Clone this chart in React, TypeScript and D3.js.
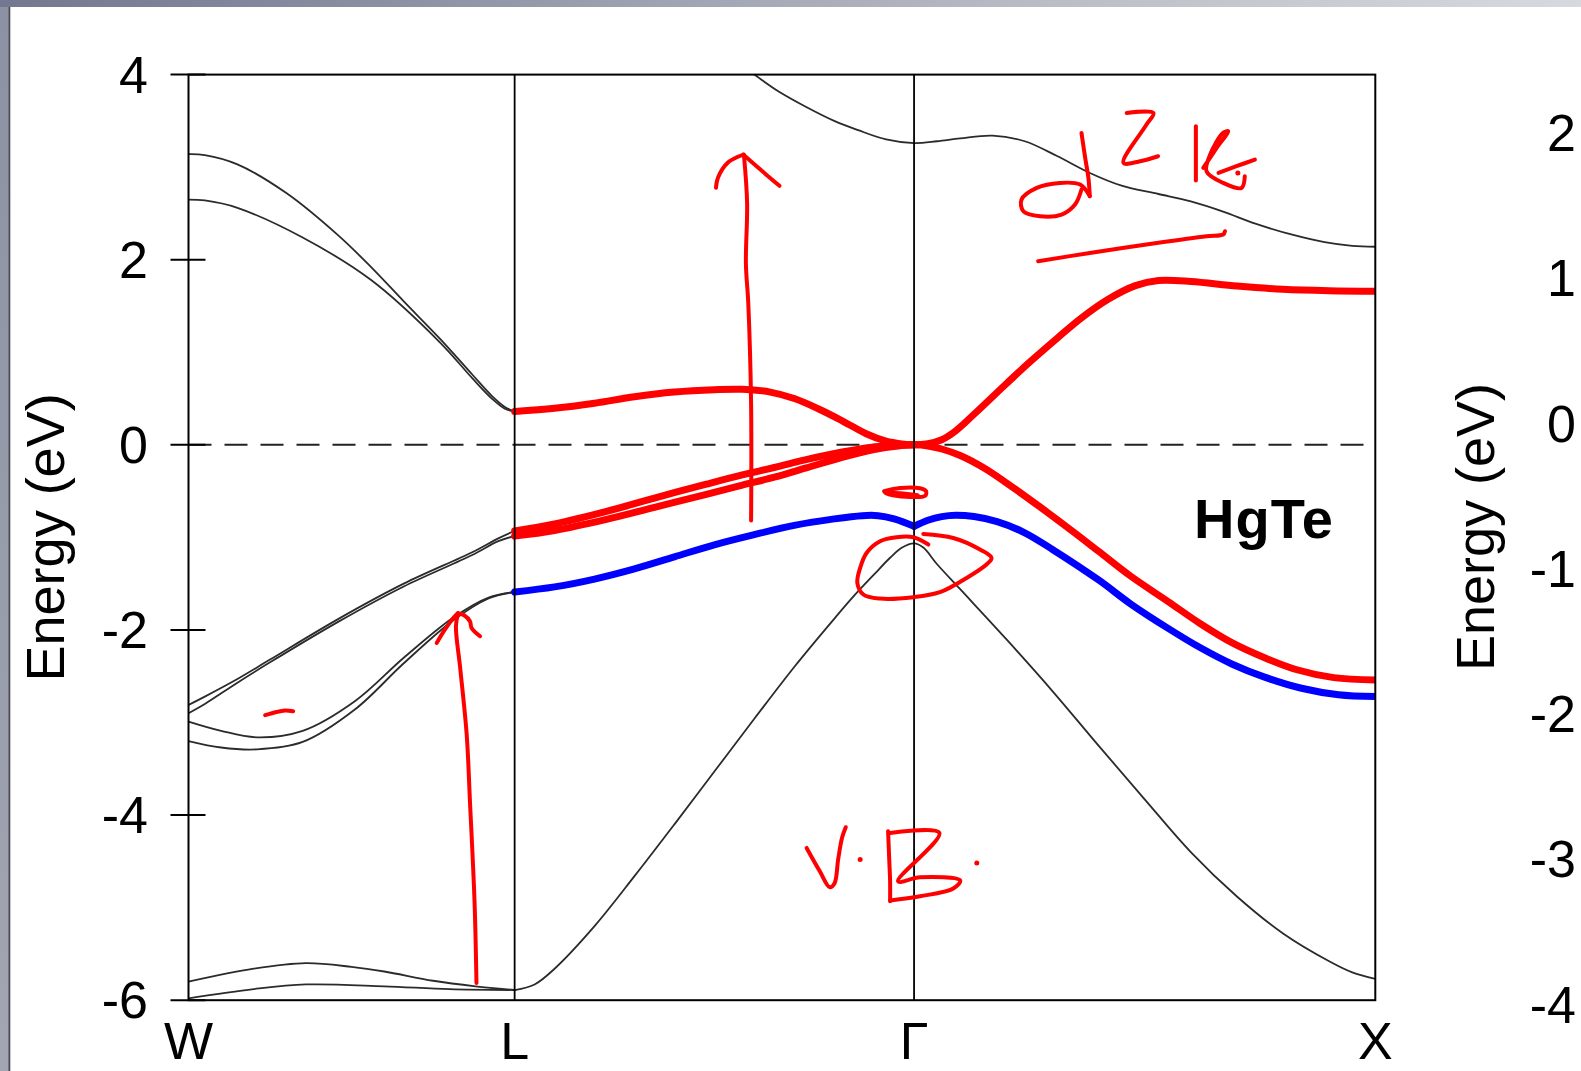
import React from 'react';
import * as d3 from 'd3';

const WIDTH = 1581;
const HEIGHT = 1071;
const FONT = "'Liberation Sans', Arial, Helvetica, sans-serif";

// High-symmetry points and their distances along the k-path (units of 2π/a)
const kLabels = ['W', 'L', 'Γ', 'X'];
const kDist = [0, 0.7071, 1.5731, 2.5731];

// Energy axis ticks (left panel) and the neighbouring panel's axis ticks
const yTicks = [-6, -4, -2, 0, 2, 4];
const rightTicks = [-4, -3, -2, -1, 0, 1, 2];

// Band points as [u, E]: u = index of the segment start + fraction along it (W=0, L=1, Γ=2, X=3)
// W → L, drawn in black
const wlCond2 = [[0, 3.14], [0.05, 3.13], [0.15, 3.03], [0.3, 2.72], [0.46, 2.26], [0.56, 1.92], [0.66, 1.55], [0.77, 1.15], [0.87, 0.76], [0.93, 0.53], [0.97, 0.41], [1, 0.36]];
const wlCond1 = [[0, 2.65], [0.05, 2.64], [0.15, 2.56], [0.35, 2.24], [0.56, 1.78], [0.77, 1.11], [0.87, 0.72], [0.93, 0.5], [0.97, 0.39], [1, 0.36]];
const wlVal3a = [[0, -2.81], [0.05, -2.72], [0.15, -2.53], [0.25, -2.32], [0.46, -1.88], [0.66, -1.5], [0.87, -1.16], [0.95, -1.01], [1, -0.93]];
const wlVal3b = [[0, -2.9], [0.05, -2.8], [0.15, -2.57], [0.25, -2.35], [0.46, -1.91], [0.66, -1.53], [0.87, -1.19], [0.95, -1.04], [1, -0.985]];
const wlVal2a = [[0, -2.99], [0.1, -3.09], [0.21, -3.16], [0.35, -3.09], [0.51, -2.77], [0.66, -2.3], [0.81, -1.87], [0.92, -1.65], [1, -1.59]];
const wlVal2b = [[0, -3.2], [0.1, -3.27], [0.21, -3.29], [0.35, -3.21], [0.51, -2.86], [0.66, -2.36], [0.81, -1.9], [0.92, -1.66], [1, -1.59]];
const wlVal1a = [[0, -5.8], [0.2, -5.66], [0.36, -5.6], [0.5, -5.64], [0.6, -5.69], [0.75, -5.79], [0.88, -5.85], [1, -5.89]];
const wlVal1b = [[0, -5.98], [0.2, -5.88], [0.36, -5.83], [0.6, -5.85], [0.8, -5.88], [1, -5.89]];

// L → Γ → X
const upperCond = [[1.54, 4.18], [1.6, 4.0], [1.66, 3.82], [1.73, 3.65], [1.8, 3.5], [1.86, 3.4], [1.93, 3.3], [2, 3.26], [2.05, 3.28], [2.1, 3.31], [2.17, 3.34], [2.24, 3.28], [2.31, 3.12], [2.38, 2.94], [2.45, 2.8], [2.53, 2.71], [2.6, 2.63], [2.67, 2.52], [2.74, 2.39], [2.82, 2.27], [2.89, 2.19], [2.95, 2.15], [3, 2.14]];
const redCond = [[1, 0.36], [1.1, 0.395], [1.2, 0.45], [1.3, 0.52], [1.4, 0.57], [1.5, 0.595], [1.57, 0.6], [1.64, 0.57], [1.7, 0.5], [1.76, 0.39], [1.82, 0.26], [1.88, 0.12], [1.93, 0.04], [1.97, 0.01], [2, 0], [2.03, 0.012], [2.06, 0.055], [2.09, 0.15], [2.13, 0.33], [2.2, 0.66], [2.25, 0.89], [2.31, 1.15], [2.36, 1.36], [2.42, 1.57], [2.48, 1.72], [2.53, 1.775], [2.6, 1.765], [2.7, 1.715], [2.8, 1.68], [2.9, 1.665], [3, 1.66]];
const redHeavy = [[1, -0.93], [1.1, -0.855], [1.23, -0.72], [1.35, -0.575], [1.48, -0.425], [1.57, -0.325], [1.65, -0.245], [1.73, -0.16], [1.82, -0.078], [1.9, -0.024], [1.96, -0.005], [2, 0], [2.03, -0.012], [2.06, -0.045], [2.1, -0.115], [2.15, -0.245], [2.2, -0.41], [2.27, -0.66], [2.34, -0.92], [2.4, -1.15], [2.47, -1.42], [2.55, -1.69], [2.62, -1.93], [2.69, -2.14], [2.76, -2.3], [2.83, -2.43], [2.91, -2.515], [3, -2.54]];
const redLight = [[1, -0.985], [1.1, -0.925], [1.23, -0.805], [1.35, -0.675], [1.48, -0.535], [1.57, -0.435], [1.65, -0.35], [1.73, -0.25], [1.82, -0.135], [1.9, -0.05], [1.96, -0.012], [2, 0]];
const blueLG = [[1, -1.59], [1.1, -1.535], [1.2, -1.45], [1.3, -1.34], [1.4, -1.21], [1.5, -1.08], [1.6, -0.97], [1.7, -0.87], [1.8, -0.8], [1.87, -0.765], [1.91, -0.765], [1.95, -0.8], [2, -0.88]];
const blueGX = [[2, -0.88], [2.03, -0.815], [2.06, -0.775], [2.09, -0.76], [2.13, -0.775], [2.18, -0.83], [2.24, -0.95], [2.3, -1.13], [2.4, -1.46], [2.47, -1.72], [2.55, -1.98], [2.62, -2.19], [2.69, -2.37], [2.76, -2.51], [2.84, -2.63], [2.92, -2.7], [3, -2.72]];
const lowerVal = [[1, -5.89], [1.05, -5.83], [1.1, -5.66], [1.2, -5.2], [1.3, -4.66], [1.4, -4.1], [1.5, -3.53], [1.6, -2.96], [1.7, -2.4], [1.8, -1.88], [1.85, -1.63], [1.9, -1.4], [1.94, -1.22], [1.97, -1.11], [2, -1.065], [2.02, -1.11], [2.05, -1.29], [2.1, -1.56], [2.2, -2.1], [2.3, -2.66], [2.4, -3.25], [2.5, -3.83], [2.6, -4.4], [2.7, -4.88], [2.8, -5.28], [2.9, -5.58], [2.95, -5.7], [3, -5.77]];

// Hand-written red ink on the slide, in the same [u, E] coordinates
const inkStrokes = [
  // arrow between L and Γ
  [[1.592, -0.818], [1.592, 0.435], [1.585, 1.524], [1.579, 1.96], [1.582, 2.613], [1.574, 3.136]],
  [[1.504, 2.778], [1.509, 2.886], [1.534, 3.05], [1.567, 3.126]],
  [[1.572, 3.136], [1.63, 2.919], [1.663, 2.799]],
  // arrow between W and L
  [[0.883, -5.814], [0.877, -4.931], [0.863, -3.851], [0.853, -3.13], [0.833, -2.41], [0.82, -1.96], [0.826, -1.83]],
  [[0.761, -2.14], [0.787, -1.992], [0.812, -1.87], [0.826, -1.819]],
  [[0.826, -1.819], [0.845, -1.841], [0.863, -1.906], [0.868, -1.978], [0.894, -2.068]],
  // short dash
  [[0.235, -2.921], [0.27, -2.886], [0.296, -2.871], [0.321, -2.878]],
  // small ring above the blue band at Γ
  [[1.925, -0.501], [1.965, -0.466], [2.013, -0.469], [2.026, -0.501], [2.024, -0.55], [1.99, -0.564], [1.947, -0.545], [1.927, -0.518], [1.965, -0.523], [2.008, -0.545]],
  // loop around the valence-band top
  [[2.031, -1.077], [1.998, -0.998], [1.956, -0.998], [1.915, -1.041], [1.881, -1.168], [1.865, -1.33], [1.858, -1.492], [1.873, -1.617], [1.915, -1.661], [1.998, -1.646], [2.056, -1.592], [2.114, -1.438], [2.157, -1.293], [2.168, -1.222], [2.143, -1.131], [2.085, -1.006], [2.02, -0.963]],
  // "V. B."
  [[1.731, -4.355], [1.764, -4.607], [1.789, -4.78], [1.801, -4.736], [1.81, -4.477], [1.82, -4.239], [1.829, -4.131]],
  [[1.935, -4.175], [1.938, -4.499], [1.94, -4.715], [1.94, -4.931]],
  [[1.94, -4.193], [2.055, -4.193], [1.96, -4.715], [2.013, -4.672], [2.1, -4.707], [2.085, -4.794], [2.013, -4.877], [1.94, -4.923]],
  // letters above the conduction band
  [[2.363, 3.37], [2.371, 3.1], [2.378, 2.884], [2.381, 2.686]],
  [[2.381, 2.686], [2.36, 2.812], [2.316, 2.83], [2.266, 2.776], [2.233, 2.65], [2.237, 2.524], [2.273, 2.47], [2.32, 2.488], [2.349, 2.596], [2.363, 2.758]],
  [[2.461, 3.586], [2.519, 3.586], [2.504, 3.46], [2.454, 3.046], [2.49, 3.064], [2.529, 3.118]],
  [[2.611, 3.442], [2.611, 2.855]],
  [[2.627, 2.992], [2.656, 3.208], [2.681, 3.388], [2.67, 3.37], [2.642, 3.136], [2.634, 2.956], [2.67, 2.83], [2.71, 2.776], [2.717, 2.902]],
  [[2.66, 2.938], [2.699, 3.01], [2.739, 3.082]],
  // underline
  [[2.269, 1.984], [2.381, 2.073], [2.526, 2.181], [2.634, 2.254], [2.67, 2.272], [2.674, 2.308]],
];
const inkDots = [[1.865, -4.48], [2.136, -4.517], [2.702, 2.938]];

const PLOT = { left: 188.5, right: 1375.3, top: 74.6, bottom: 1000.2 };

export default function App() {
  const kScale = d3.scaleLinear().domain([0, kDist[kDist.length - 1]]).range([PLOT.left, PLOT.right]);
  const x = d3.scaleLinear().domain(kDist.map((_, i) => i)).range(kDist.map((k) => kScale(k)));
  const y = d3.scaleLinear().domain([-6, 4]).range([PLOT.bottom, PLOT.top]);
  const yRight = d3.scaleLinear().domain([-4, 2]).range([1004.7, 132.9]);

  const band = d3.line<number[]>().x((d) => x(d[0])).y((d) => y(d[1])).curve(d3.curveCatmullRom.alpha(0.5));
  const pen = d3.line<number[]>().x((d) => x(d[0])).y((d) => y(d[1])).curve(d3.curveCatmullRom.alpha(0.5));

  const blackBands = [wlCond2, wlCond1, wlVal3a, wlVal3b, wlVal2a, wlVal2b, wlVal1a, wlVal1b, upperCond, lowerVal];
  const redBands = [redLight, redHeavy, redCond];
  const blueBands = [blueLG, blueGX];

  const tickSize = 52;
  const titleSize = 54;

  return (
    <svg
      width={WIDTH}
      height={HEIGHT}
      style={{ position: 'absolute', left: 0, top: 0, display: 'block' }}
      fontFamily={FONT}
    >
      <defs>
        <linearGradient id="topbar" x1="0" x2="1" y1="0" y2="0">
          <stop offset="0" stopColor="#737890" />
          <stop offset="0.2" stopColor="#878ba0" />
          <stop offset="0.45" stopColor="#a3a6b4" />
          <stop offset="0.7" stopColor="#bec0c9" />
          <stop offset="1" stopColor="#d8d9de" />
        </linearGradient>
        <linearGradient id="sidebar" x1="0" x2="0" y1="0" y2="1">
          <stop offset="0" stopColor="#8c91a3" />
          <stop offset="1" stopColor="#a2a6b2" />
        </linearGradient>
        <clipPath id="plotClip">
          <rect x={PLOT.left} y={PLOT.top} width={PLOT.right - PLOT.left} height={PLOT.bottom - PLOT.top} />
        </clipPath>
      </defs>

      <rect x={0} y={0} width={WIDTH} height={HEIGHT} fill="#ffffff" />
      <rect x={0} y={0} width={WIDTH} height={7} fill="url(#topbar)" />
      <rect x={0} y={7} width={8.4} height={HEIGHT - 7} fill="url(#sidebar)" />
      <line x1={9.3} x2={9.3} y1={7} y2={HEIGHT} stroke="#4a4c53" strokeWidth={2} />

      {/* Fermi level */}
      <line
        x1={PLOT.left}
        x2={PLOT.right}
        y1={y(0)}
        y2={y(0)}
        stroke="#222"
        strokeWidth={2}
        strokeDasharray="23 13"
      />

      <g clipPath="url(#plotClip)" fill="none" strokeLinecap="round" strokeLinejoin="round">
        {blackBands.map((b, i) => (
          <path key={`k${i}`} d={band(b) || ''} stroke="#2b2b2b" strokeWidth={1.8} />
        ))}
        {blueBands.map((b, i) => (
          <path key={`b${i}`} d={band(b) || ''} stroke="#0000ff" strokeWidth={7} />
        ))}
        {redBands.map((b, i) => (
          <path key={`r${i}`} d={band(b) || ''} stroke="#ff0000" strokeWidth={7} />
        ))}
      </g>

      {/* high-symmetry lines */}
      {kDist.slice(1, -1).map((k, i) => (
        <line key={`v${i}`} x1={kScale(k)} x2={kScale(k)} y1={PLOT.top} y2={PLOT.bottom} stroke="#000" strokeWidth={1.8} />
      ))}

      {/* frame */}
      <rect
        x={PLOT.left}
        y={PLOT.top}
        width={PLOT.right - PLOT.left}
        height={PLOT.bottom - PLOT.top}
        fill="none"
        stroke="#000"
        strokeWidth={2}
      />

      {/* y ticks and labels */}
      {yTicks.map((t) => (
        <g key={`t${t}`}>
          <line x1={PLOT.left - 18} x2={PLOT.left + 17} y1={y(t)} y2={y(t)} stroke="#000" strokeWidth={2} />
          <text x={148} y={y(t) + 18} textAnchor="end" fontSize={tickSize} fill="#000">
            {t}
          </text>
        </g>
      ))}

      {/* k-point labels */}
      {kLabels.map((lab, i) => (
        <text key={lab} x={kScale(kDist[i])} y={1059} textAnchor="middle" fontSize={tickSize} fill="#000">
          {lab}
        </text>
      ))}

      <text
        transform={`translate(64, ${(PLOT.top + PLOT.bottom) / 2}) rotate(-90)`}
        textAnchor="middle"
        fontSize={titleSize}
        fill="#000"
      >
        Energy (eV)
      </text>

      <text x={1194} y={538} fontSize={56} fontWeight="bold" letterSpacing={1} fill="#000">
        HgTe
      </text>

      {/* neighbouring panel's energy axis */}
      {rightTicks.map((t) => (
        <text key={`r${t}`} x={1576} y={yRight(t) + 18} textAnchor="end" fontSize={tickSize} fill="#000">
          {t}
        </text>
      ))}
      <text
        transform={`translate(1494, 527) rotate(-90)`}
        textAnchor="middle"
        fontSize={titleSize}
        fill="#000"
      >
        Energy (eV)
      </text>

      {/* red ink */}
      <g fill="none" stroke="#ff0000" strokeWidth={4} strokeLinecap="round" strokeLinejoin="round">
        {inkStrokes.map((s, i) => (
          <path key={`i${i}`} d={pen(s) || ''} />
        ))}
      </g>
      {inkDots.map((d, i) => (
        <circle key={`d${i}`} cx={x(d[0])} cy={y(d[1])} r={2.5} fill="#ff0000" />
      ))}
    </svg>
  );
}
